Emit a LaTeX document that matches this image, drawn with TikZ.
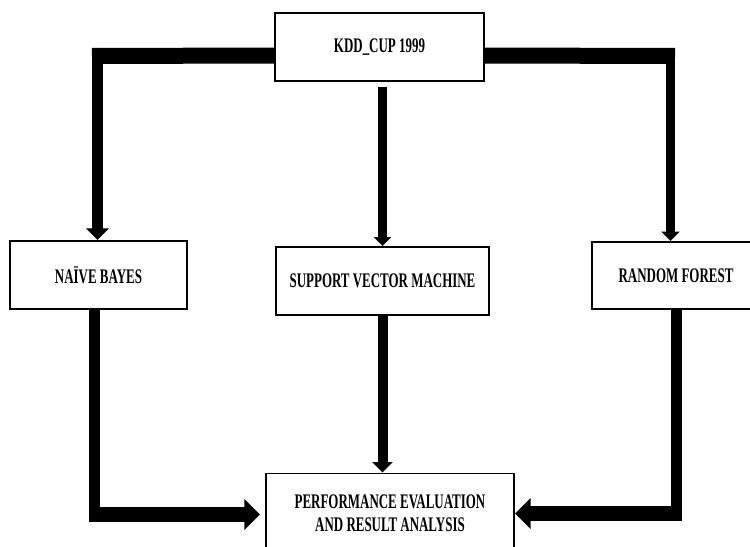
\documentclass[tikz,border=0pt]{standalone}
\usepackage{fontspec}
\usetikzlibrary{arrows.meta,calc}
\newfontfamily\boxfont{Liberation Serif}[FakeStretch=0.625]
\tikzset{
  block/.style={draw=black, line width=1.1pt, fill=white, align=center,
    inner sep=0pt, font=\boxfont\bfseries\fontsize{11.8}{13.1}\selectfont},
}

\begin{document}
\begin{tikzpicture}[>={Triangle[length=0pt 1.05, width=0pt 2]}]
      \useasboundingbox (0,0) rectangle (15,-10.94);
      \clip (0,0) rectangle (15,-10.94);

      \node [block, minimum width=4.18cm, minimum height=1.36cm, name=kdd] at (7.59,-0.94) {KDD\_CUP 1999};
      \node [block, minimum width=3.54cm, minimum height=1.36cm, name=nb] at (1.97,-5.5) {NAÏVE BAYES};
      \node [block, minimum width=4.26cm, minimum height=1.36cm, name=svm] at (7.65,-5.62) {SUPPORT VECTOR MACHINE};
      \node [block, minimum width=3.36cm, minimum height=1.34cm, name=rf] at (13.52,-5.51) {RANDOM FOREST};
      \node [block, minimum width=4.96cm, minimum height=1.6cm, name=pe] at (7.8,-10.27)
      {PERFORMANCE EVALUATION\\AND RESULT ANALYSIS};

      % corners of the elbow connectors
      \coordinate (kl) at ([yshift=-0.17cm]kdd.west);
      \coordinate (kr) at ([yshift=-0.17cm]kdd.east);
      \coordinate (nbturn) at (1.95,-1.12);
      \coordinate (rfturn) at (13.41,-1.12);
      \coordinate (lb) at (1.89,-10.29);
      \coordinate (rb) at (13.53,-10.27);

      \draw [line width=0.32cm] (kl) -- ([xshift=-0.11cm]nbturn);
      \draw [->, line width=0.22cm] ([yshift=0.16cm]nbturn) -- (nbturn |- nb.north);
      \draw [line width=0.32cm] (kr) -- ([xshift=0.09cm]rfturn);
      \draw [->, line width=0.18cm] ([yshift=0.16cm]rfturn) -- (rfturn |- rf.north);
      \draw [->, line width=0.17cm, shorten <=0.1cm] (svm.north |- kdd.south) -- (svm.north);

      \draw [->, line width=0.2cm] (svm.south) -- (svm.south |- pe.north);
      \draw [line width=0.23cm] (lb |- nb.south) -- ([yshift=-0.15cm]lb);
      \draw [->, line width=0.3cm, shorten >=0.1cm] ([xshift=-0.115cm]lb) -- (lb -| pe.west);
      \draw [line width=0.22cm] (rb |- rf.south) -- ([yshift=-0.15cm]rb);
      \draw [->, line width=0.3cm] ([xshift=0.11cm]rb) -- (rb -| pe.east);

    \end{tikzpicture}
\end{document}
